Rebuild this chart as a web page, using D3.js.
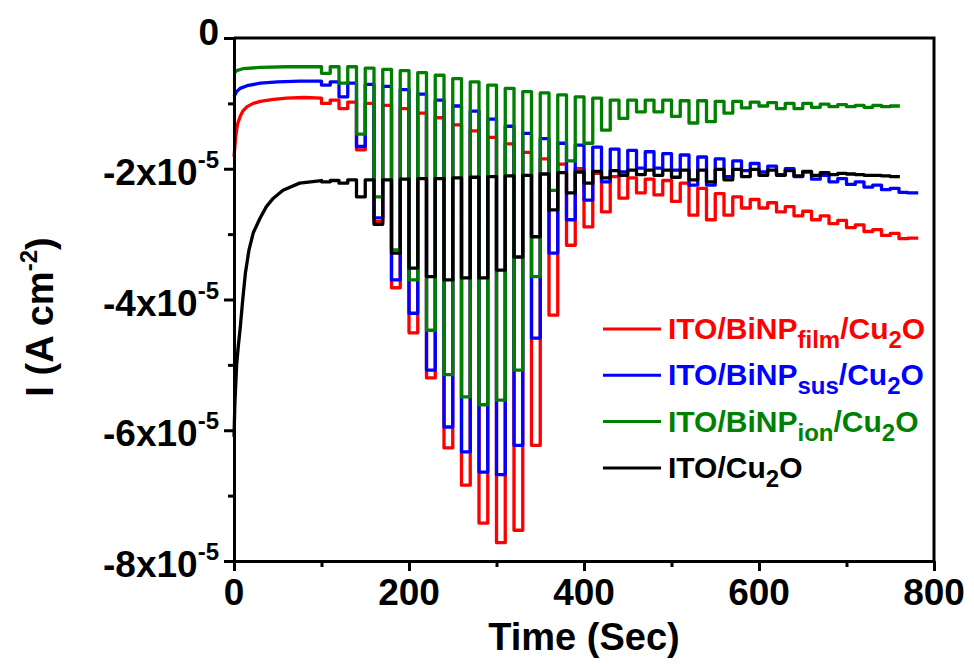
<!DOCTYPE html>
<html>
<head>
<meta charset="utf-8">
<script src="https://cdn.jsdelivr.net/npm/d3@7"></script>
<style>
  body { margin: 0; background: #fff; }
  svg text { font-family: "Liberation Sans", Arial, sans-serif; font-weight: bold; }
</style>
</head>
<body>
<script>
// current values are in units of 1e-5 A cm^-2, time in seconds

// light on at these times, each pulse lasts pulseWidth seconds
var pulseStart = [100, 120, 140, 160, 180, 200, 220, 240, 260, 280, 300, 320, 340, 360, 380, 400, 420,
                  440, 460, 480, 500, 520, 540, 560, 580, 600, 620, 640, 660, 680, 700, 720, 740, 760];
var pulseWidth = 10;

// ITO/BiNPfilm/Cu2O (red)
var redLead = [[0, -1.82], [2, -1.5], [4, -1.32], [7, -1.2], [10, -1.12], [15, -1.05], [22, -1.0],
               [30, -0.97], [45, -0.94], [60, -0.92], [80, -0.91], [100, -0.92]];
var redDark = [-0.92, -0.95, -0.98, -1.0, -1.03, -1.08, -1.15, -1.22, -1.33, -1.42, -1.52, -1.62,
               -1.75, -1.85, -1.93, -2.0, -2.07, -2.12, -2.14, -2.16, -2.18, -2.22, -2.3, -2.38,
               -2.43, -2.47, -2.52, -2.58, -2.65, -2.72, -2.79, -2.86, -2.93, -2.99];
var redLight = [-1.0, -1.08, -1.71, -2.81, -3.82, -4.51, -5.2, -6.27, -6.84, -7.42, -7.72, -7.53,
                -6.23, -4.24, -3.17, -2.89, -2.66, -2.45, -2.37, -2.4, -2.5, -2.71, -2.78, -2.71,
                -2.6, -2.6, -2.66, -2.72, -2.78, -2.84, -2.9, -2.96, -3.02, -3.07];
var redEnd = [782, -3.06];

// ITO/BiNPsus/Cu2O (blue)
var blueLead = [[0, -0.9], [3, -0.82], [7, -0.77], [15, -0.73], [30, -0.69], [50, -0.67], [75, -0.66], [100, -0.66]];
var blueDark = [-0.66, -0.67, -0.69, -0.71, -0.74, -0.79, -0.86, -0.95, -1.04, -1.12, -1.24, -1.35,
                -1.46, -1.54, -1.61, -1.64, -1.67, -1.7, -1.72, -1.74, -1.77, -1.79, -1.82, -1.85,
                -1.88, -1.92, -1.96, -2.0, -2.05, -2.1, -2.15, -2.2, -2.25, -2.3];
var blueLight = [-0.72, -0.9, -1.66, -2.75, -3.7, -4.21, -5.08, -5.95, -6.33, -6.64, -6.68, -6.23,
                 -4.59, -3.29, -2.78, -2.48, -2.2, -2.05, -1.99, -1.99, -2.02, -2.25, -2.25, -2.12,
                 -2.03, -2.05, -2.09, -2.12, -2.16, -2.2, -2.24, -2.28, -2.32, -2.36];
var blueEnd = [782, -2.37];

// ITO/BiNPion/Cu2O (green)
var greenLead = [[0, -0.54], [3, -0.5], [10, -0.47], [30, -0.45], [60, -0.44], [100, -0.44]];
var greenDark = [-0.44, -0.44, -0.44, -0.46, -0.48, -0.5, -0.53, -0.57, -0.62, -0.67, -0.72, -0.77,
                 -0.82, -0.84, -0.87, -0.9, -0.92, -0.95, -0.95, -0.95, -0.95, -0.96, -0.96, -0.97,
                 -0.97, -0.98, -0.99, -1.0, -1.0, -1.01, -1.02, -1.03, -1.03];
var greenLight = [-0.54, -0.69, -1.47, -2.43, -3.24, -3.7, -4.47, -5.15, -5.49, -5.61, -5.54, -5.08,
                  -3.65, -2.33, -1.88, -1.61, -1.41, -1.23, -1.13, -1.13, -1.2, -1.3, -1.28, -1.15,
                  -1.07, -1.04, -1.08, -1.08, -1.06, -1.05, -1.05, -1.06, -1.05];
var greenEnd = [761, -1.04];

// ITO/Cu2O (black)
var blackLead = [[0, -6.1], [1, -5.6], [3, -5.0], [5, -4.7], [7, -4.45], [10, -4.0], [13, -3.6],
                 [17, -3.25], [22, -2.98], [30, -2.75], [37, -2.58], [45, -2.45], [56, -2.33],
                 [75, -2.22], [100, -2.18]];
var blackDark = [-2.18, -2.18, -2.17, -2.17, -2.17, -2.16, -2.15, -2.15, -2.14, -2.13, -2.12, -2.11,
                 -2.1, -2.08, -2.06, -2.05, -2.04, -2.03, -2.02, -2.02, -2.02, -2.02, -2.02, -2.01,
                 -2.01, -2.01, -2.02, -2.03, -2.04, -2.06, -2.07, -2.09, -2.1];
var blackLight = [-2.2, -2.22, -2.43, -2.85, -3.29, -3.52, -3.65, -3.7, -3.67, -3.67, -3.55, -3.35,
                  -3.04, -2.63, -2.37, -2.22, -2.14, -2.1, -2.09, -2.1, -2.13, -2.17, -2.2, -2.17,
                  -2.12, -2.1, -2.1, -2.11, -2.1, -2.09, -2.08, -2.1, -2.11];
var blackEnd = [761, -2.12];

// axis ticks
var xMajor = [0, 200, 400, 600, 800];
var xMinor = [100, 300, 500, 700];
var yMajor = [0, -2, -4, -6, -8];
var yMinor = [-1, -3, -5, -7];

window.onload = drawChart;

// turn the lead-in, dark levels and light levels into one chopped-light trace
function buildTrace(lead, dark, light, end){
    var pts = lead.slice();
    for (var k = 0; k < light.length; k++){
        var t0 = pulseStart[k],
            t1 = t0 + pulseWidth;
        var after = (k + 1 < dark.length) ? dark[k + 1] : end[1];
        pts.push([t0, dark[k]]);
        pts.push([t0, light[k]]);
        pts.push([t1, light[k]]);
        pts.push([t1, after]);
    }
    pts.push(end);
    return pts;
}

function drawChart(){
    var width = 974,
        height = 664;

    var svg = d3.select("body")
        .append("svg")
        .attr("width", width)
        .attr("height", height);

    var x = d3.scaleLinear().domain([0, 800]).range([234, 934]);
    var y = d3.scaleLinear().domain([0, -8]).range([38, 561]);

    var line = d3.line()
        .x(function(d){ return x(d[0]); })
        .y(function(d){ return y(d[1]); });

    var traces = [
        {pts: buildTrace(redLead, redDark, redLight, redEnd), color: "#ff0000"},
        {pts: buildTrace(blueLead, blueDark, blueLight, blueEnd), color: "#0000ff"},
        {pts: buildTrace(greenLead, greenDark, greenLight, greenEnd), color: "#008000"},
        {pts: buildTrace(blackLead, blackDark, blackLight, blackEnd), color: "#000000"}
    ];

    svg.selectAll(".trace")
        .data(traces)
        .enter()
        .append("path")
        .attr("class", "trace")
        .attr("d", function(d){ return line(d.pts); })
        .attr("fill", "none")
        .attr("stroke", function(d){ return d.color; })
        .attr("stroke-width", 3.3)
        .attr("stroke-linejoin", "round");

    // axes with outward ticks
    svg.append("g")
        .attr("transform", "translate(0," + 561 + ")")
        .call(d3.axisBottom(x).tickValues(xMajor).tickSize(10).tickSizeOuter(0).tickFormat(""));
    svg.append("g")
        .attr("transform", "translate(0," + 561 + ")")
        .call(d3.axisBottom(x).tickValues(xMinor).tickSize(6).tickSizeOuter(0).tickFormat(""));
    svg.append("g")
        .attr("transform", "translate(" + 234 + ",0)")
        .call(d3.axisLeft(y).tickValues(yMajor).tickSize(10).tickSizeOuter(0).tickFormat(""));
    svg.append("g")
        .attr("transform", "translate(" + 234 + ",0)")
        .call(d3.axisLeft(y).tickValues(yMinor).tickSize(6).tickSizeOuter(0).tickFormat(""));

    svg.selectAll(".domain").attr("stroke", "#000").attr("stroke-width", 3);
    svg.selectAll(".tick line").attr("stroke", "#000").attr("stroke-width", 3);

    // top and right frame
    svg.append("path")
        .attr("d", "M" + x(0) + "," + y(0) + "H" + x(800) + "V" + y(-8))
        .attr("fill", "none")
        .attr("stroke", "#000")
        .attr("stroke-width", 3);

    // x tick labels
    svg.selectAll(".xlab")
        .data(xMajor)
        .enter()
        .append("text")
        .attr("class", "xlab")
        .attr("x", function(d){ return x(d); })
        .attr("y", 605)
        .attr("text-anchor", "middle")
        .attr("font-size", 37)
        .text(function(d){ return d; });

    // y tick labels like -2x10^-5
    var ylab = svg.selectAll(".ylab")
        .data(yMajor)
        .enter()
        .append("text")
        .attr("class", "ylab")
        .attr("x", 219)
        .attr("y", function(d){ return d == 0 ? y(d) + 7 : y(d) + 16; })
        .attr("text-anchor", "end")
        .attr("font-size", 37);
    ylab.each(function(d){
        var t = d3.select(this);
        if (d == 0){
            t.text("0");
            return;
        }
        t.append("tspan").text(d + "x10");
        t.append("tspan").attr("font-size", 24).attr("dy", -17).text("-5");
    });

    // axis titles
    svg.append("text")
        .attr("x", 584)
        .attr("y", 650)
        .attr("text-anchor", "middle")
        .attr("font-size", 38)
        .text("Time (Sec)");

    var yt = svg.append("text")
        .attr("transform", "translate(53,317) rotate(-90)")
        .attr("text-anchor", "middle")
        .attr("font-size", 38);
    yt.append("tspan").text("I (A cm");
    yt.append("tspan").attr("font-size", 24).attr("dy", -16).text("-2");
    yt.append("tspan").attr("dy", 16).text(")");

    // legend
    var legendRows = [
        {color: "#ff0000", sub: "film"},
        {color: "#0000ff", sub: "sus"},
        {color: "#008000", sub: "ion"},
        {color: "#000000", sub: null}
    ];
    var lg = svg.selectAll(".legend")
        .data(legendRows)
        .enter()
        .append("g")
        .attr("class", "legend")
        .attr("transform", function(d, i){ return "translate(603," + (329 + i * 46.3) + ")"; });
    lg.append("line")
        .attr("x1", 0).attr("x2", 58)
        .attr("stroke", function(d){ return d.color; })
        .attr("stroke-width", 3);
    lg.append("text")
        .attr("x", 65)
        .attr("y", 10)
        .attr("font-size", 30)
        .attr("fill", function(d){ return d.color; })
        .each(function(d){
            var t = d3.select(this);
            if (d.sub){
                t.append("tspan").text("ITO/BiNP");
                t.append("tspan").attr("font-size", 24).attr("dy", 9).text(d.sub);
                t.append("tspan").attr("dy", -9).text("/Cu");
            } else {
                t.append("tspan").text("ITO/Cu");
            }
            t.append("tspan").attr("font-size", 24).attr("dy", 9).text("2");
            t.append("tspan").attr("dy", -9).text("O");
        });
}
</script>
</body>
</html>
